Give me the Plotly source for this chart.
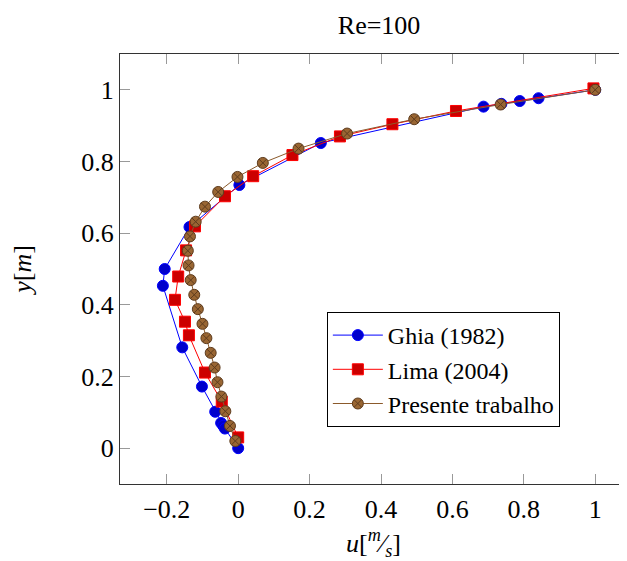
import plotly.graph_objects as go

# Ghia (1982)
ghia_u = [1.0, 0.84123, 0.78871, 0.73722, 0.68717, 0.23151, 0.00332, -0.13641,
          -0.20581, -0.21090, -0.15662, -0.10150, -0.06434, -0.04775, -0.04192, -0.03717, 0.0]
ghia_y = [1.0, 0.9766, 0.9688, 0.9609, 0.9531, 0.8516, 0.7344, 0.6172,
          0.5000, 0.4531, 0.2813, 0.1719, 0.1016, 0.0703, 0.0625, 0.0547, 0.0]

# Lima (2004)
lima_u = [0.995, 0.610, 0.432, 0.285, 0.152, 0.042, -0.037, -0.121, -0.146,
          -0.168, -0.177, -0.149, -0.138, -0.093, -0.046, 0.0]
lima_y = [1.004, 0.941, 0.904, 0.870, 0.818, 0.759, 0.703, 0.619, 0.552,
          0.479, 0.414, 0.353, 0.315, 0.211, 0.130, 0.030]

# Presente trabalho
pres_u = [1.0, 0.735, 0.493, 0.305, 0.169, 0.069, -0.002, -0.056, -0.093, -0.119,
          -0.135, -0.141, -0.139, -0.133, -0.123, -0.113, -0.100, -0.089, -0.077,
          -0.066, -0.058, -0.047, -0.036, -0.023, -0.008]
pres_y = [1.0, 0.959, 0.918, 0.878, 0.836, 0.796, 0.757, 0.715, 0.674, 0.632,
          0.591, 0.551, 0.510, 0.469, 0.428, 0.388, 0.347, 0.307, 0.266,
          0.225, 0.184, 0.144, 0.103, 0.062, 0.020]

x_ticks = [-0.2, 0, 0.2, 0.4, 0.6, 0.8, 1]
x_labels = ["\u22120.2", "0", "0.2", "0.4", "0.6", "0.8", "1"]
y_ticks = [0, 0.2, 0.4, 0.6, 0.8, 1]
y_labels = ["0", "0.2", "0.4", "0.6", "0.8", "1"]

FONT = "Liberation Serif, 'Times New Roman', Times, 'DejaVu Serif', serif"
FS = 26

fig = go.Figure()
fig.add_trace(go.Scatter(
    x=ghia_u, y=ghia_y, mode="lines+markers", name="Ghia (1982)",
    line=dict(color="#0000ff", width=1),
    marker=dict(symbol="circle", size=11, color="#0000cc",
                line=dict(color="#0000ff", width=1))))
fig.add_trace(go.Scatter(
    x=lima_u, y=lima_y, mode="lines+markers", name="Lima (2004)",
    line=dict(color="#ff0000", width=1),
    marker=dict(symbol="square", size=11, color="#cc0000",
                line=dict(color="#ff0000", width=1))))
fig.add_trace(go.Scatter(
    x=pres_u, y=pres_y, mode="lines+markers", name="Presente trabalho",
    line=dict(color="#8b5a2b", width=1),
    marker=dict(symbol="circle-x", size=11, color="#996633",
                line=dict(color="#5e3c1e", width=1))))

fig.update_layout(
    width=619, height=553,
    margin=dict(l=112, r=0, t=46, b=77),
    paper_bgcolor="white", plot_bgcolor="white",
    font=dict(family=FONT, size=FS, color="black"),
    title=dict(text="Re=100", x=0.511, xref="paper", xanchor="center",
               y=1 - 17 / 553, yref="container", yanchor="middle",
               font=dict(family=FONT, size=FS, color="black")),
    showlegend=True,
    legend=dict(x=0.408, y=0.40, xanchor="left", yanchor="top",
                bgcolor="white", bordercolor="black", borderwidth=1,
                font=dict(family=FONT, size=24, color="black"),
                tracegroupgap=0, itemwidth=50),
)
fig.update_xaxes(
    range=[-0.331, 1.089], tickvals=x_ticks, ticktext=x_labels,
    ticks="inside", ticklen=10, tickcolor="#999999", tickwidth=1,
    showline=True, linecolor="#333333", linewidth=1, mirror="ticks",
    showgrid=False, zeroline=False, ticklabelstandoff=2,
    title=dict(text="<i>u</i>[<sup><i>m</i></sup>\u2044<sub><i>s</i></sub>]",
               font=dict(family=FONT, size=FS), standoff=12),
)
fig.update_yaxes(
    range=[-0.1, 1.1], tickvals=y_ticks, ticktext=y_labels,
    ticks="inside", ticklen=10, tickcolor="#999999", tickwidth=1,
    showline=True, linecolor="#333333", linewidth=1, mirror=False,
    showgrid=False, zeroline=False,
    title=dict(text="<i>y</i>[<i>m</i>]", font=dict(family=FONT, size=FS), standoff=42),
)

fig.write_html("out.html")
